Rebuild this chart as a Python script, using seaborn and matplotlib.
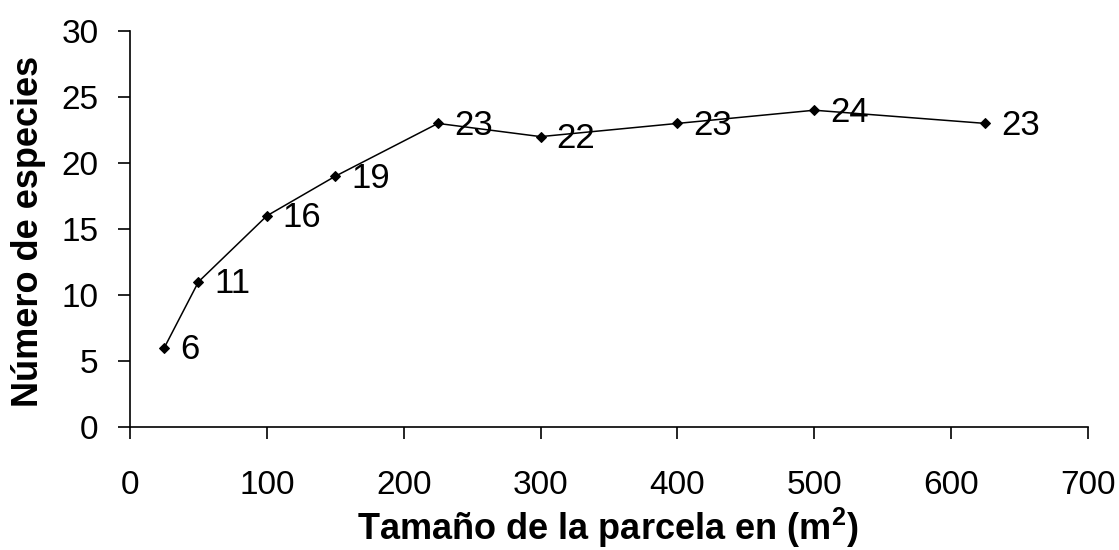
import matplotlib
matplotlib.use("Agg")
import matplotlib.pyplot as plt
import seaborn as sns
import pandas as pd

# Plot size (m²) and species count
plot_size = [25, 50, 100, 150, 225, 300, 400, 500, 625]
species = [6, 11, 16, 19, 23, 22, 23, 24, 23]
x_ticks = [0, 100, 200, 300, 400, 500, 600, 700]
y_ticks = [0, 5, 10, 15, 20, 25, 30]

sns.set_style("white")
plt.rcParams["font.family"] = ["Liberation Sans", "DejaVu Sans"]
plt.rcParams["text.color"] = "black"
plt.rcParams["axes.labelcolor"] = "black"
plt.rcParams["mathtext.fontset"] = "custom"
plt.rcParams["mathtext.rm"] = "Liberation Sans:bold"
plt.rcParams["mathtext.bf"] = "Liberation Sans:bold"

df = pd.DataFrame({"size": plot_size, "species": species})

fig = plt.figure(figsize=(11.19, 5.5), dpi=100)
ax = fig.add_axes([0.1162, 0.2236, 0.8561, 0.72])

sns.lineplot(data=df, x="size", y="species", ax=ax, color="black",
             linewidth=1.1, marker="D", markersize=5.5,
             markeredgecolor="black", markerfacecolor="black")

for xv, yv in zip(plot_size, species):
    ax.annotate(str(yv), (xv, yv), xytext=(11.5, -1.5), textcoords="offset points",
                ha="left", va="center", fontsize=25, color="black")

ax.set_xlim(0, 700)
ax.set_ylim(0, 30)
ax.set_xticks(x_ticks)
ax.set_yticks(y_ticks)
ax.tick_params(axis="both", direction="out", length=8.6, width=1.2,
               colors="black", labelcolor="black", labelsize=24,
               bottom=True, left=True)
ax.tick_params(axis="x", pad=22)
ax.tick_params(axis="y", pad=14)

for side in ["top", "right"]:
    ax.spines[side].set_visible(False)
for side in ["left", "bottom"]:
    ax.spines[side].set_color("black")
    ax.spines[side].set_linewidth(1.2)

ax.set_xlabel(r"Tamaño de la parcela en (m$^{2}$)", fontsize=26,
              fontweight="bold", va="center", color="black")
ax.set_ylabel("Número de especies", fontsize=26, fontweight="bold",
              va="center", color="black")
ax.xaxis.set_label_coords(0.499, -0.255)
ax.yaxis.set_label_coords(-0.1065, 0.495)

fig.savefig("out.png", dpi=100, facecolor="white")
